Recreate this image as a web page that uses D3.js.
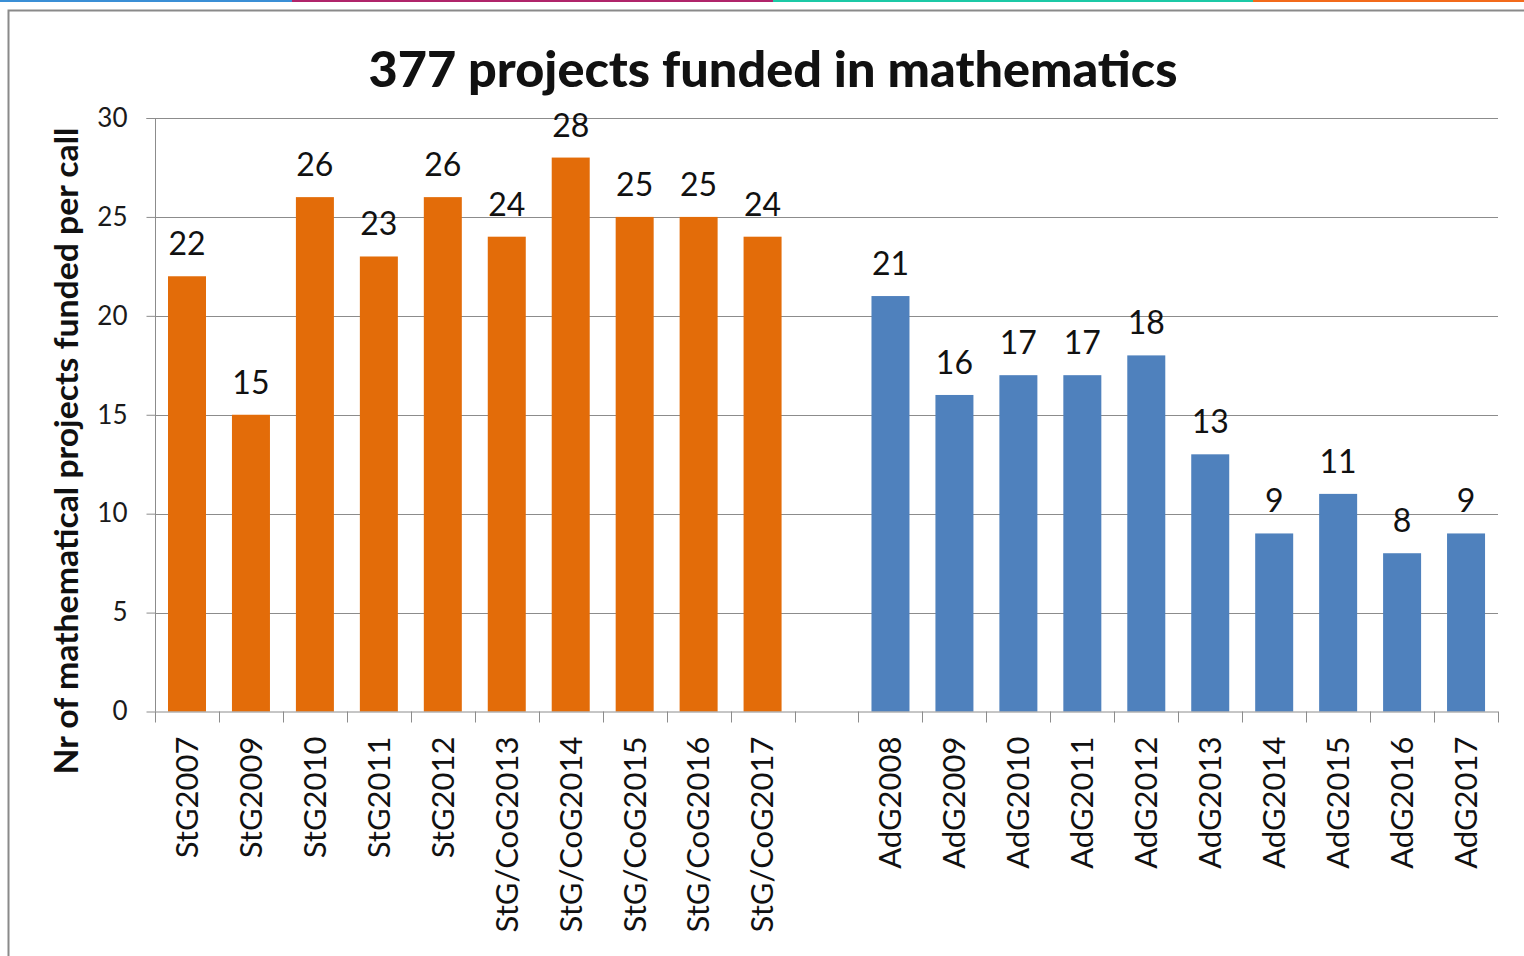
<!DOCTYPE html>
<html><head><meta charset="utf-8">
<script src="https://cdn.jsdelivr.net/npm/d3@7"></script>
<style>
html,body{margin:0;padding:0;background:#fff;}
svg{display:block;}
text{font-family:Lato, "Open Sans", sans-serif;}
</style></head>
<body>
<svg id="chart" width="1524" height="956"></svg>
<script>
const categories = ["StG2007","StG2009","StG2010","StG2011","StG2012","StG/CoG2013","StG/CoG2014","StG/CoG2015","StG/CoG2016","StG/CoG2017","",
  "AdG2008","AdG2009","AdG2010","AdG2011","AdG2012","AdG2013","AdG2014","AdG2015","AdG2016","AdG2017"];
const stgValues = [22,15,26,23,26,24,28,25,25,24];
const adgValues = [21,16,17,17,18,13,9,11,8,9];
const yTicks = [0,5,10,15,20,25,30];
const title = "377 projects funded in mathematics";
const yLabel = "Nr of mathematical projects funded per call";

const bars = [];
stgValues.forEach((v,i)=>bars.push({cat:categories[i], v, c:"#E36C09"}));
adgValues.forEach((v,i)=>bars.push({cat:categories[11+i], v, c:"#4F81BD"}));

const svg = d3.select("#chart");
const L=155, R=1498, T=118, B=711.5;

// top colored strip
const strip=[[0,292,"#3A8FD6"],[292,773,"#B0246A"],[773,1253,"#1CC9A6"],[1253,1524,"#F26A1B"]];
strip.forEach(s=>svg.append("rect").attr("x",s[0]).attr("y",0).attr("width",s[1]-s[0]).attr("height",2).attr("fill",s[2]));
// frame
svg.append("path").attr("d","M8.5,956 L8.5,10.5 L1524,10.5").attr("fill","none").attr("stroke","#8a8a8a").attr("stroke-width",2);

const xb = d3.scaleBand().domain(categories.map((c,i)=>i)).range([L,R]);
const y = d3.scaleLinear().domain([0,30]).range([B,T]);

// gridlines
svg.append("g").selectAll("line").data(yTicks.filter(t=>t>0)).join("line")
  .attr("x1",L).attr("x2",R).attr("y1",d=>Math.round(y(d))+0.5).attr("y2",d=>Math.round(y(d))+0.5)
  .attr("stroke","#8c8c8c").attr("stroke-width",1);

// y axis
const ya = svg.append("g").attr("transform",`translate(${L+0.5},0)`)
  .call(d3.axisLeft(y).tickValues(yTicks).tickSize(9).tickPadding(19));
ya.select(".domain").attr("stroke","#8c8c8c").attr("d",`M-9,${T+0.5}H0V${B}`);
ya.selectAll(".tick line").attr("stroke","#8c8c8c");
ya.selectAll(".tick text").attr("font-size",26).attr("fill","#1a1a1a").attr("font-family","Lato, sans-serif");

// bars
const idx = d=>categories.indexOf(d.cat);
svg.append("g").selectAll("rect").data(bars).join("rect")
  .attr("x",d=>xb(idx(d))+13).attr("width",38)
  .attr("y",d=>y(d.v)).attr("height",d=>B-y(d.v)).attr("fill",d=>d.c);

// value labels
svg.append("g").selectAll("text").data(bars).join("text")
  .attr("x",d=>xb(idx(d))+xb.bandwidth()/2).attr("y",d=>y(d.v)-21)
  .attr("text-anchor","middle").attr("font-size",32).attr("fill","#111").text(d=>d.v);

// x axis
const xa = svg.append("g").attr("transform",`translate(0,${B})`)
  .call(d3.axisBottom(xb).tickSize(0).tickFormat(i=>categories[i]));
xa.select(".domain").attr("stroke","#8c8c8c").attr("d",`M${L},0.5H${R}`);
xa.selectAll(".tick text").attr("font-size",31).attr("fill","#111").attr("font-family","Lato, sans-serif")
  .attr("text-anchor","end").attr("transform","rotate(-90)").attr("x",-25).attr("y",0).attr("dy","0.35em");
// boundary ticks
svg.append("g").selectAll("line").data(d3.range(categories.length+1)).join("line")
  .attr("x1",i=>Math.round(L+i*xb.step())+0.5).attr("x2",i=>Math.round(L+i*xb.step())+0.5)
  .attr("y1",B).attr("y2",B+11).attr("stroke","#8c8c8c");

// title
svg.append("text").attr("x",773).attr("y",87).attr("text-anchor","middle")
  .attr("font-size",50).attr("font-weight","900").attr("fill","#111")
  .attr("textLength",809).attr("lengthAdjust","spacingAndGlyphs").text(title);
// y label
svg.append("text").attr("transform","translate(78,451) rotate(-90)").attr("text-anchor","middle")
  .attr("font-size",33).attr("font-weight","bold").attr("fill","#111")
  .attr("textLength",647).attr("lengthAdjust","spacingAndGlyphs").text(yLabel);
</script>
</body></html>
